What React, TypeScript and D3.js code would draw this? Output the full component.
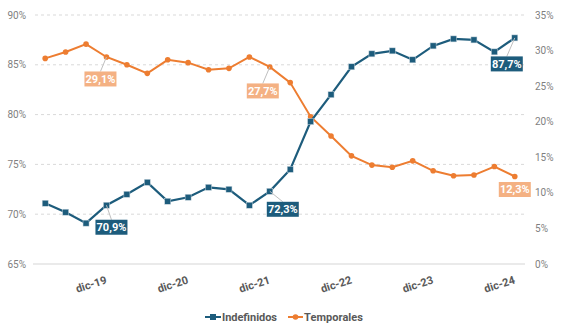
import React from "react";
import * as d3 from "d3";

const quarters = [
  "mar-19","jun-19","sep-19","dic-19","mar-20","jun-20","sep-20","dic-20",
  "mar-21","jun-21","sep-21","dic-21","mar-22","jun-22","sep-22","dic-22",
  "mar-23","jun-23","sep-23","dic-23","mar-24","jun-24","sep-24","dic-24",
];
const indefinidos = [71.1,70.2,69.1,70.9,72.0,73.2,71.3,71.7,72.7,72.5,70.9,72.3,74.5,79.3,82.0,84.8,86.1,86.4,85.5,86.9,87.6,87.5,86.3,87.7];
const temporales = [28.9,29.8,30.9,29.1,28.0,26.8,28.7,28.3,27.3,27.5,29.1,27.7,25.5,20.7,18.0,15.2,13.9,13.6,14.5,13.1,12.4,12.5,13.7,12.3];
const leftTicks = [65,70,75,80,85,90];
const rightTicks = [0,5,10,15,20,25,30,35];
const xLabels = ["dic-19","dic-20","dic-21","dic-22","dic-23","dic-24"];
const seriesNames = ["Indefinidos","Temporales"];

const annotations = [
  { i: 3, s: 1, dx: -6, dy: 22, leader: true },
  { i: 11, s: 1, dx: -7, dy: 24, leader: true },
  { i: 3, s: 0, dx: 5, dy: 22, leader: true },
  { i: 11, s: 0, dx: 13, dy: 18, leader: true },
  { i: 23, s: 0, dx: -8, dy: 26, leader: true },
  { i: 23, s: 1, dx: 0, dy: 13, leader: false },
];

const BLUE = "#1d5c7c";
const ORANGE = "#ed7d31";
const ORANGE_LIGHT = "#f4b183";
const TXT = "#7f7f7f";
const FONT = "Roboto, 'Liberation Sans', sans-serif";

export default function App() {
  const W = 569, H = 328;
  const x = d3.scaleBand<string>().domain(quarters).range([35, 525]);
  const cx = (q: string) => (x(q) as number) + x.bandwidth() / 2;
  const yL = d3.scaleLinear().domain([65, 90]).range([264, 15]);
  const yR = d3.scaleLinear().domain([0, 35]).range([264, 15]);

  const lineL = d3.line<number>().x((_, i) => cx(quarters[i])).y((d) => yL(d));
  const lineR = d3.line<number>().x((_, i) => cx(quarters[i])).y((d) => yR(d));
  const fmt = (v: number) => v.toFixed(1).replace(".", ",") + "%";

  return (
    <svg width={W} height={H} style={{ position: "absolute", left: 0, top: 0, background: "#fff" }} fontFamily={FONT}>
      {leftTicks.map((t) => (
        <g key={"l" + t}>
          {t === 65 ? (
            <line x1={33} x2={525} y1={yL(t)} y2={yL(t)} stroke="#e3e3e3" strokeWidth={1.5} />
          ) : (
            <line x1={35} x2={525} y1={yL(t)} y2={yL(t)} stroke="#d9d9d9" strokeWidth={1} strokeDasharray="3,3" />
          )}
          <text x={26} y={yL(t) + 3.5} textAnchor="end" fontSize={10} fill={TXT}>{t}%</text>
        </g>
      ))}
      {rightTicks.map((t) => (
        <text key={"r" + t} x={535} y={yR(t) + 3.5} textAnchor="start" fontSize={10} fill={TXT}>{t}%</text>
      ))}
      {xLabels.map((l) => (
        <text key={l} transform={`translate(${cx(l) + 1},${283}) rotate(-18)`} textAnchor="end" fontSize={11} fontWeight="bold" fill="#595959">{l}</text>
      ))}

      <path d={lineR(temporales) || ""} fill="none" stroke={ORANGE} strokeWidth={2} />
      {temporales.map((v, i) => (
        <circle key={"t" + i} cx={cx(quarters[i])} cy={yR(v)} r={2.8} fill={ORANGE} />
      ))}
      <path d={lineL(indefinidos) || ""} fill="none" stroke={BLUE} strokeWidth={2.2} />
      {indefinidos.map((v, i) => (
        <rect key={"b" + i} x={cx(quarters[i]) - 3} y={yL(v) - 3} width={6} height={6} fill={BLUE} stroke="#c9d6de" strokeWidth={0.5} />
      ))}

      {annotations.map((a, k) => {
        const v = a.s === 0 ? indefinidos[a.i] : temporales[a.i];
        const px = cx(quarters[a.i]);
        const py = a.s === 0 ? yL(v) : yR(v);
        const bx = px + a.dx, by = py + a.dy;
        const bw = 32, bh = 15;
        return (
          <g key={"a" + k}>
            {a.leader && <line x1={px} y1={py} x2={bx} y2={by - bh / 2} stroke="#bfbfbf" strokeWidth={1} />}
            <rect x={bx - bw / 2} y={by - bh / 2} width={bw} height={bh} fill={a.s === 0 ? BLUE : ORANGE_LIGHT} />
            <text x={bx} y={by + 4} textAnchor="middle" fontSize={11} fontWeight="bold" fill="#fff">{fmt(v)}</text>
          </g>
        );
      })}

      <g transform="translate(205,317)">
        <line x1={0} x2={16} y1={0} y2={0} stroke={BLUE} strokeWidth={2} />
        <rect x={5} y={-3} width={6} height={6} fill={BLUE} />
        <text x={17} y={4} fontSize={11} fontWeight="bold" fill="#595959" textLength={55}>{seriesNames[0]}</text>
        <line x1={83} x2={98} y1={0} y2={0} stroke={ORANGE} strokeWidth={2} />
        <circle cx={90.5} cy={0} r={2.8} fill={ORANGE} />
        <text x={99} y={4} fontSize={11} fontWeight="bold" fill="#595959" textLength={59}>{seriesNames[1]}</text>
      </g>
    </svg>
  );
}
